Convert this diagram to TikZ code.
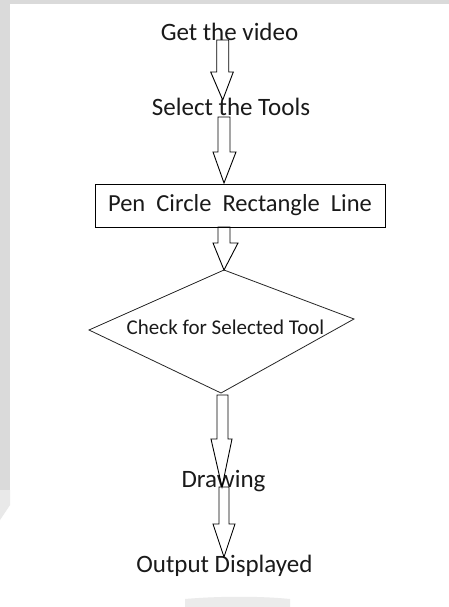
\documentclass[tikz,border=0pt]{standalone}
\usepackage{fontspec}
\setmainfont{Carlito}
\definecolor{bggray}{HTML}{DADADA}
\definecolor{txt}{HTML}{1A1A1A}
\tikzset{
  lbl/.style={anchor=base, inner sep=0pt, text=txt, font=\fontsize{25}{28}\selectfont},
  blk/.style={draw=black, line width=0.9pt, line join=miter},
  shapeline/.style={draw=black!85, line width=0.8pt}
}
% #1 shaft left x, #2 shaft right x, #3 top y, #4 head y, #5 head left x, #6 head right x, #7 tip x, #8 tip y
\newcommand\blkarrow[8]{%
  \draw[blk] (#1,#3) -- (#1,#4) -- (#5,#4) -- (#7,#8) -- (#6,#4) -- (#2,#4) -- (#2,#3) -- cycle;}
\begin{document}
\begin{tikzpicture}[x=1pt,y=-1pt]
\useasboundingbox (0,0) rectangle (449,607);
\fill[white] (0,0) rectangle (449,607);
\fill[bggray] (0,0) rectangle (449,4);
\fill[bggray] (0,0) rectangle (10,490);
\fill[bggray!60] (0,490) -- (10,490) -- (10,505) -- (0,520) -- cycle;
\fill[bggray!55] (185,599) .. controls (220,596) and (260,596) .. (290,599) -- (290,607) -- (185,607) -- cycle;

\node[lbl] (get) at (229.5,41) {Get the video};
\node[lbl] (sel) at (231,115) {Select the Tools};
\node[draw=black, line width=0.9pt, minimum width=290pt, minimum height=43pt, inner sep=0pt,
      font=\fontsize{24.5}{27}\selectfont, text=txt] (tools) at (240,205.5) {Pen\ \ Circle\ \ Rectangle\ \ Line};
\coordinate (dt) at (224,270);
\coordinate (dl) at (89,330);
\coordinate (dr) at (354,319);
\coordinate (db) at (221,393);
\draw[shapeline] (dt) -- (dr) -- (db) -- (dl) -- cycle;
\node[lbl, font=\fontsize{21}{24}\selectfont] (chk) at (225.5,334) {Check for Selected Tool};
\node[lbl] (draw) at (223.5,487) {Drawing};
\node[lbl] (out) at (224.5,572) {Output Displayed};

\blkarrow{216.7}{228.7}{40}{72}{210.7}{233.3}{222.7}{100}
\blkarrow{218}{230}{117}{152}{213}{236}{224}{183}
\blkarrow{218}{230}{227}{243}{213}{238}{224}{270}
\blkarrow{217}{228}{395}{439}{211}{232}{222}{487}
\blkarrow{219}{229}{487}{524}{213}{235}{224}{557}
\end{tikzpicture}
\end{document}
